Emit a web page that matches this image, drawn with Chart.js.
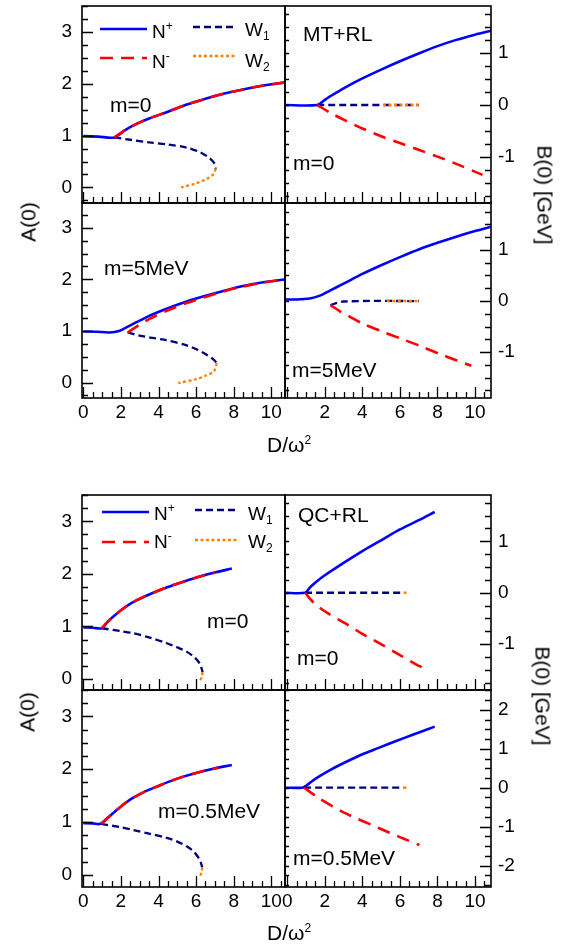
<!DOCTYPE html>
<html>
<head>
<meta charset="utf-8">
<title>A(0) and B(0) vs D/omega^2</title>
<script src="https://cdn.jsdelivr.net/npm/chart.js@4.4.1/dist/chart.umd.min.js"></script>
<style>
    body { margin: 0; background: #fff; }
    #fig { position: relative; width: 569px; height: 946px; font-family: "Liberation Sans", Arial, sans-serif; color: #000; }
    #fig canvas { position: absolute; left: 0; top: 0; }
    .t { position: absolute; white-space: nowrap; line-height: 1; font-size: 21px; }
    .lg { font-size: 19px; }
    .sup { font-size: 12px; position: relative; top: -8px; }
    .sub { font-size: 12px; position: relative; top: 4px; }
    .up { transform: translate(-50%, -50%) rotate(-90deg); }
    .down { transform: translate(-50%, -50%) rotate(90deg); }
</style>
</head>
<body>
<div id="fig">
    <canvas id="p0" width="569" height="946"></canvas>
    <canvas id="p1" width="569" height="946"></canvas>
    <canvas id="p2" width="569" height="946"></canvas>
    <canvas id="p3" width="569" height="946"></canvas>
    <canvas id="p4" width="569" height="946"></canvas>
    <canvas id="p5" width="569" height="946"></canvas>
    <canvas id="p6" width="569" height="946"></canvas>
    <canvas id="p7" width="569" height="946"></canvas>

    <!-- legends -->
    <div class="t lg" style="left:152px;top:22px">N<span class="sup">+</span></div>
    <div class="t lg" style="left:152px;top:52px">N<span class="sup">-</span></div>
    <div class="t lg" style="left:245px;top:20px">W<span class="sub">1</span></div>
    <div class="t lg" style="left:245px;top:51px">W<span class="sub">2</span></div>
    <div class="t lg" style="left:154px;top:504px">N<span class="sup">+</span></div>
    <div class="t lg" style="left:154px;top:532px">N<span class="sup">-</span></div>
    <div class="t lg" style="left:248px;top:504px">W<span class="sub">1</span></div>
    <div class="t lg" style="left:248px;top:532px">W<span class="sub">2</span></div>

    <!-- panel notes -->
    <div class="t" style="left:110px;top:94px">m=0</div>
    <div class="t" style="left:303px;top:23px">MT+RL</div>
    <div class="t" style="left:293px;top:152px">m=0</div>
    <div class="t" style="left:104px;top:257px">m=5MeV</div>
    <div class="t" style="left:292px;top:359px">m=5MeV</div>
    <div class="t" style="left:298px;top:504px">QC+RL</div>
    <div class="t" style="left:207px;top:610px">m=0</div>
    <div class="t" style="left:297px;top:647px">m=0</div>
    <div class="t" style="left:158px;top:800px">m=0.5MeV</div>
    <div class="t" style="left:293px;top:847px">m=0.5MeV</div>

    <!-- axis titles -->
    <div class="t up" style="left:28px;top:222px">A(0)</div>
    <div class="t up" style="left:27px;top:712px">A(0)</div>
    <div class="t down" style="left:545px;top:195px">B(0) [GeV]</div>
    <div class="t down" style="left:543px;top:696px">B(0) [GeV]</div>
    <div class="t" style="left:267px;top:434px">D/ω<span class="sup">2</span></div>
    <div class="t" style="left:267px;top:922px">D/ω<span class="sup">2</span></div>
</div>

<script>
const W = 569, H = 946;

// tick labels
const xTicks = [0, 2, 4, 6, 8, 10];
const aTicks = [0, 1, 2, 3];
const bTicks = [-1, 0, 1];
const bTicksWide = [-2, -1, 0, 1, 2];

// MT+RL, m=0 : A(0)   [D/w^2, A]
const mtA0Np = [[0, 0.99], [0.8, 0.98], [1.65, 0.965], [2.2, 1.1], [2.8, 1.22], [3.5, 1.33], [4.5, 1.46], [5.5, 1.6], [6.5, 1.71], [7.5, 1.81], [8.5, 1.89], [9.5, 1.96], [10.8, 2.03]];
const mtA0Nm = [[1.65, 0.965], [2.2, 1.1], [2.8, 1.22], [3.5, 1.33], [4.5, 1.46], [5.5, 1.6], [6.5, 1.71], [7.5, 1.81], [8.5, 1.89], [9.5, 1.96], [10.8, 2.03]];
const mtA0W1 = [[1.65, 0.965], [2.5, 0.92], [3.5, 0.87], [4.5, 0.83], [5.5, 0.77], [6.2, 0.68], [6.7, 0.57], [7.0, 0.45], [7.05, 0.36]];
const mtA0W2 = [[7.05, 0.36], [6.9, 0.25], [6.6, 0.17], [6.0, 0.08], [5.2, 0.0]];

// MT+RL, m=0 : B(0)
const mtB0Np = [[-0.2, 0], [1.6, 0], [2.0, 0.1], [2.3, 0.17], [3, 0.32], [4, 0.51], [5, 0.68], [6, 0.84], [7, 0.99], [8, 1.13], [9, 1.25], [10, 1.35], [10.9, 1.43]];
const mtB0Nm = [[1.6, 0], [2.3, -0.15], [3, -0.28], [4, -0.45], [5, -0.6], [6, -0.73], [7, -0.86], [8, -0.99], [9, -1.13], [10.4, -1.34]];
const mtB0W1 = [[1.6, 0], [7.0, 0]];
const mtB0W2 = [[5.1, 0], [7.0, 0]];

// MT+RL, m=5MeV : A(0)
const mtA5Np = [[0, 0.99], [0.7, 0.985], [1.4, 0.97], [1.9, 1.0], [2.4, 1.09], [3, 1.2], [3.55, 1.3], [4.5, 1.44], [5.5, 1.57], [6.5, 1.68], [7.5, 1.78], [8.5, 1.87], [9.5, 1.94], [10.8, 2.0]];
const mtA5Nm = [[2.36, 0.97], [2.9, 1.1], [3.5, 1.23], [4.5, 1.4], [5.5, 1.54], [6.5, 1.66], [7.5, 1.77], [8.5, 1.86], [9.5, 1.93], [10.8, 2.0]];
const mtA5W1 = [[2.36, 0.97], [3, 0.91], [3.55, 0.87], [4.3, 0.83], [5.5, 0.72], [6.1, 0.63], [6.6, 0.53], [6.95, 0.44], [7.1, 0.375]];
const mtA5W2 = [[7.1, 0.375], [6.95, 0.22], [6.5, 0.13], [6.0, 0.065], [5.05, -0.01]];

// MT+RL, m=5MeV : B(0)
const mtB5Np = [[-0.2, 0.03], [0.5, 0.03], [1.2, 0.05], [1.7, 0.1], [2.3, 0.21], [3, 0.34], [4, 0.53], [5, 0.7], [6, 0.86], [7, 1.01], [8, 1.14], [9, 1.26], [10, 1.37], [10.9, 1.46]];
const mtB5Nm = [[2.3, -0.08], [2.8, -0.2], [3.3, -0.3], [4, -0.44], [5, -0.59], [6, -0.73], [7, -0.87], [8, -1.02], [9, -1.16], [9.8, -1.27]];
const mtB5W1 = [[2.3, -0.08], [3.0, -0.01], [7.0, 0]];
const mtB5W2 = [[5.3, 0], [7.0, 0]];

// QC+RL, m=0 : A(0)
const qcA0Np = [[0, 0.98], [0.5, 0.975], [0.98, 0.965], [1.3, 1.09], [1.6, 1.19], [2.2, 1.36], [2.8, 1.49], [3.72, 1.64], [4.5, 1.75], [5.32, 1.85], [6.1, 1.94], [6.93, 2.02], [7.9, 2.1]];
const qcA0Nm = [[0.98, 0.965], [1.3, 1.09], [1.6, 1.19], [2.2, 1.36], [2.8, 1.49], [3.72, 1.64], [4.5, 1.75], [5.32, 1.85], [6.1, 1.94], [7.0, 2.02]];
const qcA0W1 = [[0.98, 0.965], [2, 0.91], [2.66, 0.87], [3.5, 0.79], [4.44, 0.68], [5, 0.6], [5.5, 0.52], [5.94, 0.4], [6.2, 0.29], [6.35, 0.13]];
const qcA0W2 = [[6.35, 0.13], [6.3, 0.04], [6.22, -0.03]];

// QC+RL, m=0 : B(0)
const qcB0Np = [[-0.2, 0], [0.95, 0], [1.2, 0.1], [1.5, 0.2], [2.0, 0.34], [3, 0.58], [4, 0.81], [5, 1.02], [6, 1.23], [7, 1.41], [7.85, 1.57]];
const qcB0Nm = [[0.95, 0], [1.35, -0.17], [2, -0.36], [3.12, -0.6], [4, -0.8], [4.9, -0.98], [6, -1.21], [6.9, -1.4], [7.2, -1.45]];
const qcB0W1 = [[0.95, 0], [6.25, 0]];
const qcB0W2 = [[6.2, 0], [6.35, 0]];

// QC+RL, m=0.5MeV : A(0)
const qcA05Np = [[0, 0.98], [0.5, 0.975], [0.89, 0.965], [1.3, 1.08], [1.69, 1.2], [2.2, 1.35], [2.66, 1.46], [3.3, 1.58], [3.9, 1.67], [4.6, 1.77], [5.32, 1.86], [6.1, 1.94], [6.91, 2.01], [7.9, 2.08]];
const qcA05Nm = [[0.95, 0.965], [1.3, 1.08], [1.69, 1.2], [2.2, 1.35], [2.66, 1.46], [3.3, 1.58], [3.9, 1.67], [4.6, 1.77], [5.32, 1.86], [6.1, 1.94], [7.2, 2.03]];
const qcA05W1 = [[0.95, 0.965], [2, 0.9], [2.66, 0.85], [3.5, 0.78], [4.44, 0.7], [5, 0.63], [5.5, 0.54], [5.9, 0.43], [6.2, 0.28], [6.33, 0.14]];
const qcA05W2 = [[6.33, 0.14], [6.3, 0.07], [6.22, -0.03]];

// QC+RL, m=0.5MeV : B(0)
const qcB05Np = [[-0.2, 0], [0.8, 0], [1.0, 0.05], [1.3, 0.16], [1.7, 0.29], [2.3, 0.46], [3.12, 0.66], [4, 0.86], [4.9, 1.03], [5.8, 1.2], [6.68, 1.36], [7.85, 1.57]];
const qcB05Nm = [[0.9, 0], [1.7, -0.27], [3.12, -0.66], [4.9, -1.04], [6, -1.27], [7.04, -1.47]];
const qcB05W1 = [[0.9, 0], [6.2, 0]];
const qcB05W2 = [[6.2, 0], [6.35, 0]];

const STYLE = {
    np: { color: '#0000ff', width: 2.6, dash: [] },
    nm: { color: '#ff0000', width: 2.6, dash: [13, 8] },
    w1: { color: '#000080', width: 2.3, dash: [7, 4] },
    w2: { color: '#ff8000', width: 2.3, dash: [3, 2.5] }
};

const TICK_FONT = { family: "'Liberation Sans', Arial, sans-serif", size: 19 };
const LABEL_BOX = 40;   // room kept for tick labels outside each panel

/**
 * Frame, inward ticks (minor 0.5 on x, 0.25 on y)
 */
const framePlugin = {
    id: 'frame',
    afterDatasetsDraw(chart, args, opts) {
        const { ctx, chartArea: a } = chart;
        const xs = chart.scales.x, ys = chart.scales.y;
        ctx.save();
        ctx.strokeStyle = '#000';
        ctx.lineWidth = 1.3;
        ctx.beginPath();
        for (let i = Math.ceil(xs.min * 2); i <= Math.floor(xs.max * 2); i++) {
            const px = Math.round(xs.getPixelForValue(i / 2)) + 0.5;
            const len = i % 4 === 0 ? 11 : 6;
            ctx.moveTo(px, a.bottom);
            ctx.lineTo(px, a.bottom - len);
        }
        for (let i = Math.ceil(ys.min * 4); i <= Math.floor(ys.max * 4); i++) {
            const py = Math.round(ys.getPixelForValue(i / 4)) + 0.5;
            const len = i % 4 === 0 ? 11 : 6;
            if (opts.side === 'left') {
                ctx.moveTo(a.left, py);
                ctx.lineTo(a.left + len, py);
            } else {
                ctx.moveTo(a.right, py);
                ctx.lineTo(a.right - len, py);
                ctx.moveTo(a.left, py);
                ctx.lineTo(a.left + 4, py);
            }
        }
        ctx.stroke();
        ctx.lineWidth = 1.6;
        ctx.strokeRect(a.left, a.top, a.width, a.height);
        ctx.restore();
    }
};

/**
 * Legend line samples
 */
const keyPlugin = {
    id: 'keyLines',
    afterDatasetsDraw(chart, args, opts) {
        if (!opts.items) return;
        const ctx = chart.ctx;
        ctx.save();
        opts.items.forEach(it => {
            const s = STYLE[it.key];
            ctx.strokeStyle = s.color;
            ctx.lineWidth = s.width;
            ctx.setLineDash(s.dash);
            ctx.beginPath();
            ctx.moveTo(it.x1, it.y);
            ctx.lineTo(it.x2, it.y);
            ctx.stroke();
        });
        ctx.restore();
    }
};

function series(key, pts) {
    const s = STYLE[key];
    return {
        data: pts.map(p => ({ x: p[0], y: p[1] })),
        borderColor: s.color,
        borderWidth: s.width,
        borderDash: s.dash,
        pointRadius: 0,
        tension: 0.3,
        fill: false
    };
}

function legendItems(x0, y1, x1, y2) {
    return [
        { key: 'np', x1: x0, x2: x0 + 47, y: y1 },
        { key: 'nm', x1: x0, x2: x0 + 47, y: y2 },
        { key: 'w1', x1: x1, x2: x1 + 42, y: y1 - 2 },
        { key: 'w2', x1: x1, x2: x1 + 42, y: y2 - 2 }
    ];
}

// fixed box size, no extra padding from label overhang
function fixBox(s, horizontal) {
    if (horizontal) s.height = LABEL_BOX; else s.width = LABEL_BOX;
    s.paddingTop = 0;
    s.paddingBottom = 0;
    s.paddingLeft = 0;
    s.paddingRight = 0;
}

const LEFT_X = [-0.07, 10.73];
const RIGHT_X = [-0.12, 10.85];

const panels = [
    { id: 'p0', box: [82, 6, 285, 203], x: LEFT_X, y: [-0.3, 3.5], side: 'left', yTicks: aTicks, lines: [mtA0Np, mtA0Nm, mtA0W1, mtA0W2], legend: legendItems(100, 29, 193, 58) },
    { id: 'p1', box: [285, 6, 491, 203], x: RIGHT_X, y: [-1.88, 1.9], side: 'right', yTicks: bTicks, lines: [mtB0Np, mtB0Nm, mtB0W1, mtB0W2] },
    { id: 'p2', box: [82, 203, 285, 398], x: LEFT_X, y: [-0.3, 3.48], side: 'left', yTicks: aTicks, xLabels: true, lines: [mtA5Np, mtA5Nm, mtA5W1, mtA5W2] },
    { id: 'p3', box: [285, 203, 491, 398], x: RIGHT_X, y: [-1.9, 1.92], side: 'right', yTicks: bTicks, xLabels: true, hideZero: true, lines: [mtB5Np, mtB5Nm, mtB5W1, mtB5W2] },
    { id: 'p4', box: [82, 495, 285, 690], x: LEFT_X, y: [-0.21, 3.5], side: 'left', yTicks: aTicks, lines: [qcA0Np, qcA0Nm, qcA0W1, qcA0W2], legend: legendItems(102, 512, 195, 542) },
    { id: 'p5', box: [285, 495, 491, 690], x: RIGHT_X, y: [-1.89, 1.9], side: 'right', yTicks: bTicks, lines: [qcB0Np, qcB0Nm, qcB0W1, qcB0W2] },
    { id: 'p6', box: [82, 690, 285, 887], x: LEFT_X, y: [-0.23, 3.5], side: 'left', yTicks: aTicks, xLabels: true, lines: [qcA05Np, qcA05Nm, qcA05W1, qcA05W2] },
    { id: 'p7', box: [285, 690, 491, 887], x: RIGHT_X, y: [-2.55, 2.51], side: 'right', yTicks: bTicksWide, xLabels: true, lines: [qcB05Np, qcB05Nm, qcB05W1, qcB05W2] }
];

/**
 * Build one panel as its own chart, placed by layout padding
 */
function drawPanel(p) {
    const [l, t, r, b] = p.box;
    const [np, nm, w1, w2] = p.lines;
    const pad = {
        left: p.side === 'left' ? l - LABEL_BOX : l,
        right: p.side === 'right' ? W - r - LABEL_BOX : W - r,
        top: t,
        bottom: H - b - LABEL_BOX
    };
    new Chart(document.getElementById(p.id), {
        type: 'line',
        data: {
            // first dataset ends up on top
            datasets: [series('w2', w2), series('nm', nm), series('w1', w1), series('np', np)]
        },
        options: {
            responsive: false,
            animation: false,
            events: [],
            layout: { padding: pad },
            scales: {
                x: {
                    type: 'linear',
                    min: p.x[0],
                    max: p.x[1],
                    bounds: 'data',
                    grid: { display: false, drawTicks: false },
                    border: { display: false },
                    ticks: {
                        display: !!p.xLabels,
                        autoSkip: false,
                        maxRotation: 0,
                        padding: 3,
                        color: '#000',
                        font: TICK_FONT,
                        callback: v => (p.hideZero && v === 0) ? '' : String(v)
                    },
                    afterBuildTicks: s => { s.ticks = xTicks.map(v => ({ value: v })); },
                    afterFit: s => fixBox(s, true)
                },
                y: {
                    type: 'linear',
                    position: p.side,
                    min: p.y[0],
                    max: p.y[1],
                    bounds: 'data',
                    grid: { display: false, drawTicks: false },
                    border: { display: false },
                    ticks: {
                        autoSkip: false,
                        padding: p.side === 'left' ? 10 : 7,
                        color: '#000',
                        font: TICK_FONT,
                        callback: v => String(v)
                    },
                    afterBuildTicks: s => { s.ticks = p.yTicks.map(v => ({ value: v })); },
                    afterFit: s => fixBox(s, false)
                }
            },
            plugins: {
                legend: { display: false },
                tooltip: { enabled: false },
                frame: { side: p.side },
                keyLines: { items: p.legend || null }
            }
        },
        plugins: [framePlugin, keyPlugin]
    });
}

panels.forEach(drawPanel);
</script>
</body>
</html>
